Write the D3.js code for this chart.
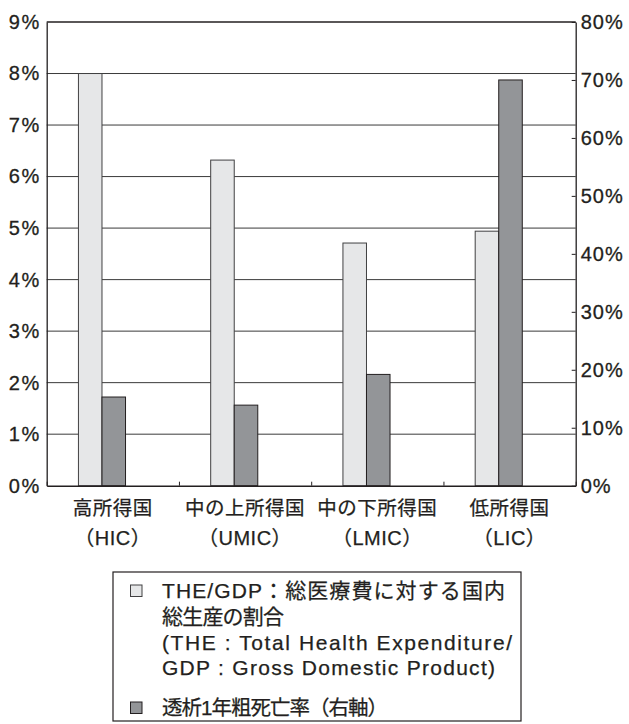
<!DOCTYPE html>
<html><head><meta charset="utf-8">
<script src="https://cdnjs.cloudflare.com/ajax/libs/d3/7.8.5/d3.min.js"></script>
<style>
html,body{margin:0;padding:0;background:#fff;}
svg{display:block;}
text{fill:#231f20;}
</style></head>
<body>
<svg id="chart" width="629" height="724"></svg>
<script>
const categories = ["高所得国","中の上所得国","中の下所得国","低所得国"];
const categoryCodes = ["（HIC）","（UMIC）","（LMIC）","（LIC）"];
const theGdp = [8.0, 6.32, 4.71, 4.94];          // left axis, %
const mortality = [15.3, 13.9, 19.2, 70.0];       // right axis, %
const leftTicks = [0,1,2,3,4,5,6,7,8,9];
const rightTicks = [0,10,20,30,40,50,60,70,80];
const legendLines1 = ["THE/GDP：総医療費に対する国内","総生産の割合","(THE : Total Health Expenditure/","GDP : Gross Domestic Product)"];
const legendLabel2 = "透析1年粗死亡率（右軸）";

const svg = d3.select("#chart");
const L = 46.7, R = 575.7, T = 22, B = 485.7;
const latin = "'Liberation Sans', Arial, sans-serif";
const cjk = "'Liberation Sans', 'Noto Sans CJK JP', sans-serif";
const ink = "#231f20";

const x0 = d3.scaleBand().domain(categories).range([L, R]).padding(0);
const bw = x0.bandwidth();
const x1 = d3.scaleBand().domain(["the","mort"]).range([0.24*bw, 0.596*bw]);
const yL = d3.scaleLinear().domain([0,9]).range([B, T]);
const yR = d3.scaleLinear().domain([0,80]).range([B, T]);
const xB = d3.scaleLinear().domain([0,4]).range([L, R]);

// gridlines
svg.append("g").selectAll("line").data(leftTicks.filter(d=>d>0)).join("line")
  .attr("x1", L).attr("x2", R).attr("y1", d=>yL(d)).attr("y2", d=>yL(d))
  .attr("stroke", d=> d===9 ? ink : "#3a3a3a").attr("stroke-width", d=> d===9?1.3:1);

// bars
const rows = categories.map((c,i)=>({c, the: theGdp[i], mort: mortality[i]}));
const g = svg.append("g");
g.selectAll("rect.the").data(rows).join("rect").attr("class","the")
  .attr("x", d=>x0(d.c)+x1("the")).attr("width", x1.bandwidth())
  .attr("y", d=>yL(d.the)).attr("height", d=>B-yL(d.the))
  .attr("fill","#e6e7e8").attr("stroke","#414042").attr("stroke-width",1);
g.selectAll("rect.mort").data(rows).join("rect").attr("class","mort")
  .attr("x", d=>x0(d.c)+x1("mort")).attr("width", x1.bandwidth())
  .attr("y", d=>yR(d.mort)).attr("height", d=>B-yR(d.mort))
  .attr("fill","#939598").attr("stroke",ink).attr("stroke-width",1);

function styleText(sel, size, ls, sw){
  sel.attr("font-family", latin).attr("font-size", size).attr("fill", ink)
     .attr("stroke", ink).attr("stroke-width", sw).style("letter-spacing", ls+"px");
}

// left axis
const axL = svg.append("g").attr("transform",`translate(${L},0)`)
  .call(d3.axisLeft(yL).tickValues(leftTicks).tickSize(0).tickPadding(6).tickFormat(d=>d+"%"));
axL.select(".domain").attr("stroke",ink).attr("stroke-width",1.3);
styleText(axL.selectAll("text"), 20, 1.5, 0.3);

// right axis
const axR = svg.append("g").attr("transform",`translate(${R},0)`)
  .call(d3.axisRight(yR).tickValues(rightTicks).tickSizeInner(-4).tickSizeOuter(0).tickPadding(5).tickFormat(d=>d+"%"));
axR.select(".domain").attr("stroke",ink).attr("stroke-width",1.3);
axR.selectAll("line").attr("stroke",ink);
styleText(axR.selectAll("text"), 20, 1, 0.3);

// bottom axis
const axB = svg.append("g").attr("transform",`translate(0,${B})`)
  .call(d3.axisBottom(xB).tickValues([0,1,2,3,4]).tickSizeInner(-4).tickSizeOuter(0).tickFormat(""));
axB.select(".domain").attr("stroke",ink).attr("stroke-width",1.6);
axB.selectAll("line").attr("stroke",ink);

// category labels
const cl = svg.append("g");
cl.selectAll("text.c1").data(categories).join("text").attr("class","c1")
  .attr("x", d=>x0(d)+bw/2).attr("y", 515).attr("text-anchor","middle")
  .text(d=>d).call(s=>{styleText(s,19.5,0.5,0.25); s.attr("font-family",cjk);});
cl.selectAll("text.c2").data(categoryCodes).join("text").attr("class","c2")
  .attr("x", (d,i)=>x0(categories[i])+bw/2).attr("y", 545).attr("text-anchor","middle")
  .text(d=>d).call(s=>{styleText(s,20,0.5,0.25); s.attr("font-family",cjk);});

// legend
const lg = svg.append("g");
lg.append("rect").attr("x",113).attr("y",572).attr("width",408).attr("height",149)
  .attr("fill","#fff").attr("stroke",ink).attr("stroke-width",1.2);
lg.append("rect").attr("x",130.5).attr("y",585).attr("width",11.5).attr("height",11.5)
  .attr("fill","#e6e7e8").attr("stroke","#414042");
lg.append("rect").attr("x",130.5).attr("y",702).attr("width",11.5).attr("height",11.5)
  .attr("fill","#939598").attr("stroke",ink);
const lineY = [598, 624, 650, 675];
const lineW = [343, 122, 350, 333];
lg.selectAll("text.l1").data(legendLines1).join("text").attr("class","l1")
  .attr("x", 162).attr("y",(d,i)=>lineY[i])
  .attr("textLength",(d,i)=>lineW[i]).attr("lengthAdjust","spacing")
  .text(d=>d).call(s=>{styleText(s,21,0,0.25); s.attr("font-family",cjk);});
lg.append("text").attr("x",162).attr("y",715).attr("textLength",226).attr("lengthAdjust","spacing")
  .text(legendLabel2).call(s=>{styleText(s,20.5,0,0.25); s.attr("font-family",cjk);});
</script>
</body></html>
